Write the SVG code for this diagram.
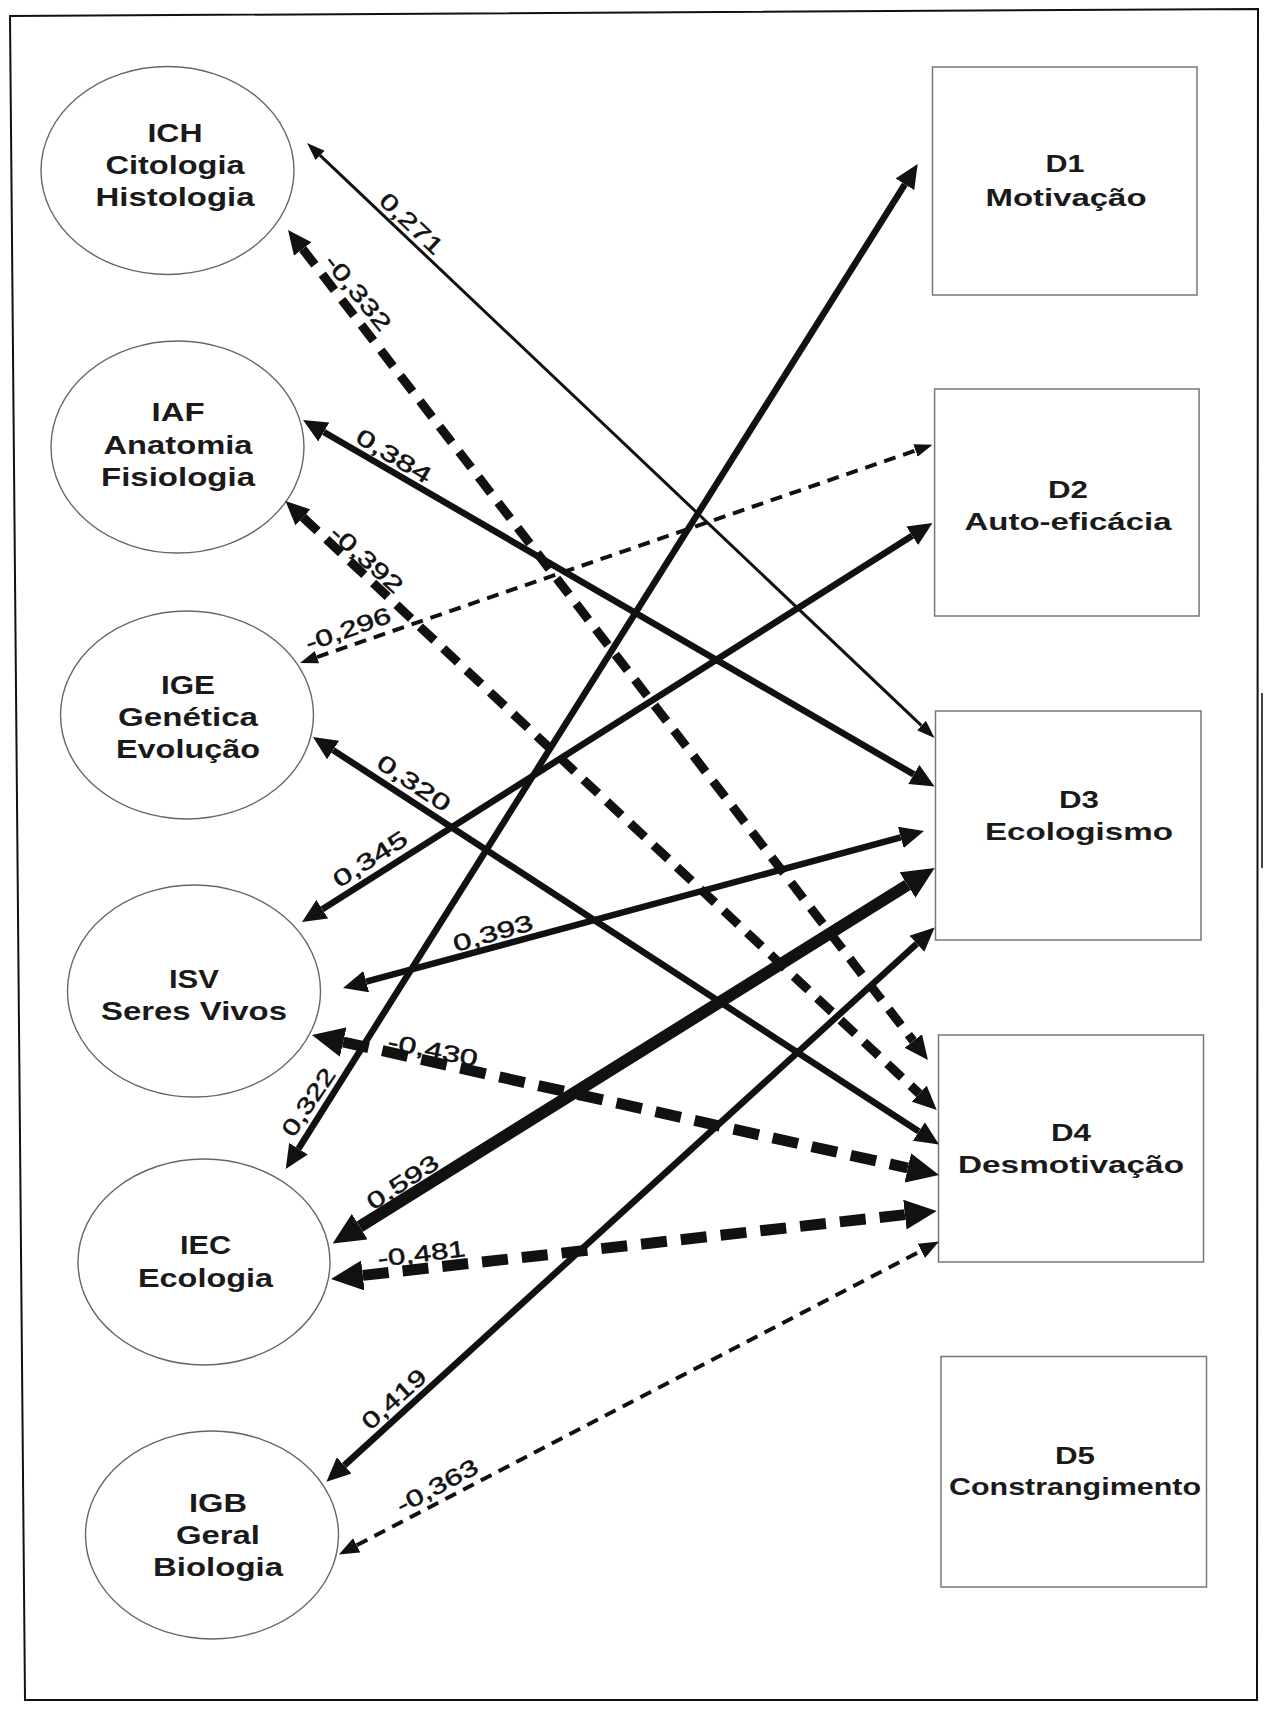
<svg xmlns="http://www.w3.org/2000/svg" width="1264" height="1713" viewBox="0 0 1264 1713">
<style>
.bg{fill:#fff}
.frame{fill:none;stroke:#111;stroke-width:2}
.ell{fill:#fff;stroke:#666;stroke-width:1.4}
.box{fill:#fff;stroke:#777;stroke-width:1.5}
.nt{font-family:"Liberation Sans",Arial,sans-serif;font-weight:bold;font-size:25px;fill:#1a1a1a;text-anchor:middle}
.bt{font-family:"Liberation Sans",Arial,sans-serif;font-weight:bold;font-size:24px;fill:#1a1a1a;text-anchor:middle}
.lb{font-family:"Liberation Sans",Arial,sans-serif;font-size:23px;fill:#111;stroke:#111;stroke-width:0.5;text-anchor:middle}
.ln{fill:none;stroke:#111;stroke-linecap:butt}
.thin{stroke-width:3}
.mid{stroke-width:6.5}
.heavy{stroke-width:12}
.dthin{stroke-width:4;stroke-dasharray:12 8}
.dmid{stroke-width:9;stroke-dasharray:20 12}
.dheavy{stroke-width:11;stroke-dasharray:26 14}
</style>
<defs>
<marker id="aS" viewBox="0 -7 18 14" markerWidth="18" markerHeight="14" refX="0" refY="0" orient="auto-start-reverse" markerUnits="userSpaceOnUse"><path d="M0,-6.5L18,0L0,6.5z" fill="#111"/></marker>
<marker id="aS2" viewBox="0 -8 20 16" markerWidth="20" markerHeight="16" refX="0" refY="0" orient="auto-start-reverse" markerUnits="userSpaceOnUse"><path d="M0,-8L20,0L0,8z" fill="#111"/></marker>
<marker id="aM" viewBox="0 -11 24 22" markerWidth="24" markerHeight="22" refX="0" refY="0" orient="auto-start-reverse" markerUnits="userSpaceOnUse"><path d="M0,-11L24,0L0,11z" fill="#111"/></marker>
<marker id="aL" viewBox="0 -15 32 30" markerWidth="32" markerHeight="30" refX="0" refY="0" orient="auto-start-reverse" markerUnits="userSpaceOnUse"><path d="M0,-15L32,0L0,15z" fill="#111"/></marker>
</defs>
<rect class="bg" x="0" y="0" width="1264" height="1713"/>
<polygon class="frame" points="10,16 1258,9 1257,1700 25,1700"/>
<line x1="1262" y1="693" x2="1262" y2="868" stroke="#444" stroke-width="2"/>

<g id="ICH"><ellipse class="ell" cx="167.5" cy="170.5" rx="126.5" ry="104"/>
<text class="nt" x="175" y="142" textLength="55" lengthAdjust="spacingAndGlyphs">ICH</text>
<text class="nt" x="175" y="174" textLength="139" lengthAdjust="spacingAndGlyphs">Citologia</text>
<text class="nt" x="175" y="206" textLength="159" lengthAdjust="spacingAndGlyphs">Histologia</text></g>

<g id="IAF"><ellipse class="ell" cx="177.5" cy="447" rx="126.5" ry="106"/>
<text class="nt" x="178" y="421" textLength="53" lengthAdjust="spacingAndGlyphs">IAF</text>
<text class="nt" x="178" y="453.5" textLength="149" lengthAdjust="spacingAndGlyphs">Anatomia</text>
<text class="nt" x="178" y="485.5" textLength="154" lengthAdjust="spacingAndGlyphs">Fisiologia</text></g>

<g id="IGE"><ellipse class="ell" cx="187" cy="715" rx="126.5" ry="104"/>
<text class="nt" x="188" y="693.5" textLength="54" lengthAdjust="spacingAndGlyphs">IGE</text>
<text class="nt" x="188" y="725.7" textLength="140" lengthAdjust="spacingAndGlyphs">Genética</text>
<text class="nt" x="188" y="758" textLength="144" lengthAdjust="spacingAndGlyphs">Evolução</text></g>

<g id="ISV"><ellipse class="ell" cx="194" cy="991" rx="126.5" ry="106"/>
<text class="nt" x="194" y="988" textLength="50" lengthAdjust="spacingAndGlyphs">ISV</text>
<text class="nt" x="194" y="1020" textLength="186" lengthAdjust="spacingAndGlyphs">Seres Vivos</text></g>

<g id="IEC"><ellipse class="ell" cx="204" cy="1262" rx="126" ry="103"/>
<text class="nt" x="205.5" y="1253.6" textLength="51" lengthAdjust="spacingAndGlyphs">IEC</text>
<text class="nt" x="205.5" y="1286.7" textLength="135" lengthAdjust="spacingAndGlyphs">Ecologia</text></g>

<g id="IGB"><ellipse class="ell" cx="212" cy="1535" rx="126.5" ry="104"/>
<text class="nt" x="218" y="1512" textLength="58" lengthAdjust="spacingAndGlyphs">IGB</text>
<text class="nt" x="218" y="1543.5" textLength="84" lengthAdjust="spacingAndGlyphs">Geral</text>
<text class="nt" x="218" y="1575.8" textLength="130" lengthAdjust="spacingAndGlyphs">Biologia</text></g>

<g id="D1"><rect class="box" x="932.5" y="67" width="264.5" height="228"/>
<text class="bt" x="1065" y="172" textLength="39" lengthAdjust="spacingAndGlyphs">D1</text>
<text class="bt" x="1066" y="205.5" textLength="161" lengthAdjust="spacingAndGlyphs">Motivação</text></g>

<g id="D2"><rect class="box" x="934.6" y="389" width="264.5" height="227"/>
<text class="bt" x="1068" y="498" textLength="40" lengthAdjust="spacingAndGlyphs">D2</text>
<text class="bt" x="1068" y="529.6" textLength="207" lengthAdjust="spacingAndGlyphs">Auto-eficácia</text></g>

<g id="D3"><rect class="box" x="935.5" y="711" width="265.5" height="229"/>
<text class="bt" x="1079" y="808" textLength="40" lengthAdjust="spacingAndGlyphs">D3</text>
<text class="bt" x="1079" y="840" textLength="188" lengthAdjust="spacingAndGlyphs">Ecologismo</text></g>

<g id="D4"><rect class="box" x="938.5" y="1035" width="265" height="227"/>
<text class="bt" x="1071" y="1140.6" textLength="40" lengthAdjust="spacingAndGlyphs">D4</text>
<text class="bt" x="1071" y="1173" textLength="226" lengthAdjust="spacingAndGlyphs">Desmotivação</text></g>

<g id="D5"><rect class="box" x="941" y="1356.5" width="265.5" height="230.5"/>
<text class="bt" x="1075" y="1463.5" textLength="40" lengthAdjust="spacingAndGlyphs">D5</text>
<text class="bt" x="1075" y="1495" textLength="252" lengthAdjust="spacingAndGlyphs">Constrangimento</text></g>

<g id="connectors">
<line class="ln thin" x1="320.1" y1="155.4" x2="921.5" y2="725.6" marker-start="url(#aS)" marker-end="url(#aS)"/>
<line class="ln dmid" x1="302.7" y1="249.0" x2="913.3" y2="1041.0" marker-start="url(#aM)" marker-end="url(#aM)"/>
<line class="ln mid" x1="323.8" y1="432.0" x2="913.8" y2="774.4" marker-start="url(#aM)" marker-end="url(#aM)"/>
<line class="ln dmid" x1="303.0" y1="517.4" x2="919.2" y2="1093.6" marker-start="url(#aM)" marker-end="url(#aM)"/>
<line class="ln dthin" x1="317.0" y1="657.1" x2="915.5" y2="450.5" marker-start="url(#aS)" marker-end="url(#aS)"/>
<line class="ln mid" x1="333.1" y1="750.1" x2="918.9" y2="1131.5" marker-start="url(#aM)" marker-end="url(#aM)"/>
<line class="ln mid" x1="322.3" y1="909.2" x2="912.2" y2="535.8" stroke-width="6" marker-start="url(#aM)" marker-end="url(#aM)"/>
<line class="ln mid" x1="366.2" y1="981.7" x2="900.8" y2="837.3" stroke-width="5.5" marker-start="url(#aM)" marker-end="url(#aM)"/>
<line class="ln dheavy" x1="343.2" y1="1042.0" x2="907.8" y2="1168.0" stroke-width="10" marker-start="url(#aL)" marker-end="url(#aL)"/>
<line class="ln mid" x1="298.5" y1="1148.7" x2="904.9" y2="184.3" stroke-width="7" marker-start="url(#aM)" marker-end="url(#aM)"/>
<line class="ln heavy" x1="359.8" y1="1226.6" x2="907.5" y2="885.0" marker-start="url(#aL)" marker-end="url(#aL)"/>
<line class="ln dheavy" x1="362.8" y1="1275.4" x2="904.9" y2="1214.6" marker-start="url(#aL)" marker-end="url(#aL)"/>
<line class="ln mid" x1="344.2" y1="1465.5" x2="916.9" y2="943.7" stroke-width="8" marker-start="url(#aM)" marker-end="url(#aM)"/>
<line class="ln dthin" x1="356.7" y1="1545.3" x2="921.3" y2="1250.8" stroke-width="5.5" marker-start="url(#aS2)" marker-end="url(#aS2)"/>

<text class="lb" transform="translate(411.5,223.5) rotate(43.5)" y="8" textLength="78" lengthAdjust="spacingAndGlyphs">0,271</text>
<text class="lb" transform="translate(358,292.5) rotate(51)" y="8" textLength="91" lengthAdjust="spacingAndGlyphs">-0,332</text>
<text class="lb" transform="translate(394,456) rotate(31)" y="8" textLength="84" lengthAdjust="spacingAndGlyphs">0,384</text>
<text class="lb" transform="translate(366.7,559) rotate(42)" y="8" textLength="89" lengthAdjust="spacingAndGlyphs">-0,392</text>
<text class="lb" transform="translate(348,629) rotate(-19.5)" y="8" textLength="89" lengthAdjust="spacingAndGlyphs">-0,296</text>
<text class="lb" transform="translate(414,783) rotate(34)" y="8" textLength="83" lengthAdjust="spacingAndGlyphs">0,320</text>
<text class="lb" transform="translate(370,859) rotate(-33)" y="8" textLength="84" lengthAdjust="spacingAndGlyphs">0,345</text>
<text class="lb" transform="translate(493,933) rotate(-16)" y="8" textLength="82" lengthAdjust="spacingAndGlyphs">0,393</text>
<text class="lb" transform="translate(433,1050) rotate(11)" y="8" textLength="91" lengthAdjust="spacingAndGlyphs">-0,430</text>
<text class="lb" transform="translate(308.3,1102) rotate(-56)" y="8" textLength="77" lengthAdjust="spacingAndGlyphs">0,322</text>
<text class="lb" transform="translate(402.5,1182) rotate(-33)" y="8" textLength="81" lengthAdjust="spacingAndGlyphs">0,593</text>
<text class="lb" transform="translate(421.5,1253.5) rotate(-7)" y="8" textLength="88" lengthAdjust="spacingAndGlyphs">-0,481</text>
<text class="lb" transform="translate(394,1399) rotate(-42)" y="8" textLength="78" lengthAdjust="spacingAndGlyphs">0,419</text>
<text class="lb" transform="translate(437,1486) rotate(-28)" y="8" textLength="89" lengthAdjust="spacingAndGlyphs">-0,363</text>
</g>
</svg>
